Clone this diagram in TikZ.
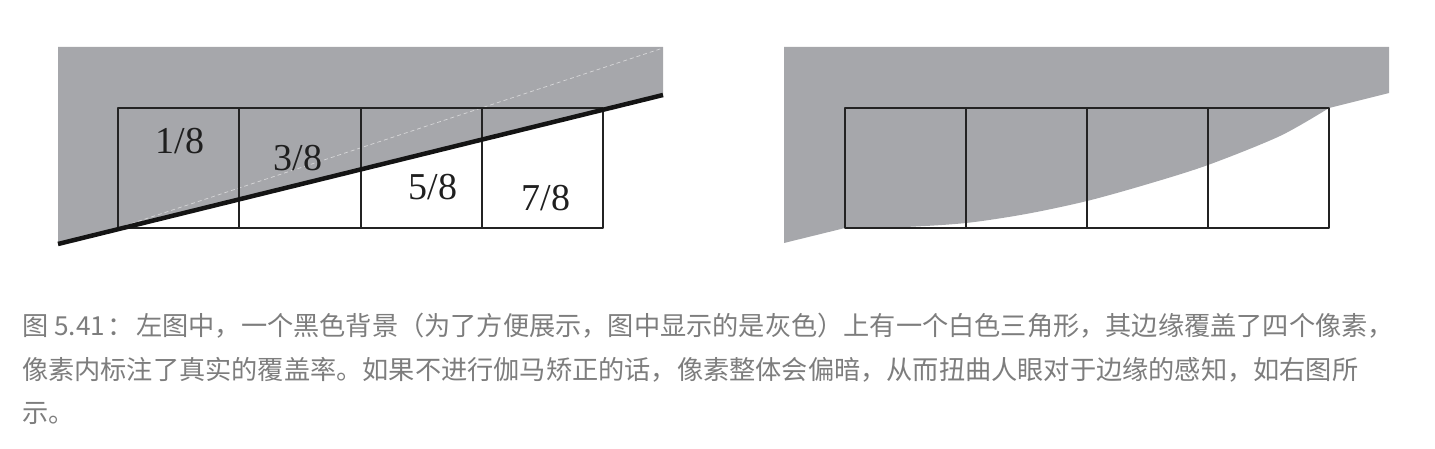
\documentclass[tikz,border=0pt]{standalone}
\usepackage{fontspec}
\setmainfont{Liberation Serif}
\newfontfamily\cjk{Noto Sans CJK SC}
\definecolor{bggray}{RGB}{166,167,171}
\definecolor{captiongray}{RGB}{125,125,125}
\definecolor{gridline}{RGB}{35,35,35}
\begin{document}
\begin{tikzpicture}[x=1pt,y=-1pt,
  cell/.style={draw=gridline, line width=2pt, line join=round},
  edgeline/.style={draw=black!92, line width=4.5pt},
  frac/.style={font=\fontsize{38}{38}\selectfont, inner sep=0pt, text=black!88},
  capline/.style={anchor=west, inner sep=0pt, text=captiongray, font=\cjk\fontsize{26.2}{26.2}\selectfont}]
\useasboundingbox (0,0) rectangle (1435,449);
% ---------- left panel ----------
\coordinate (Ltl) at (58,47);
\coordinate (Ltr) at (663,47);
\coordinate (Lr) at (663,95);
\coordinate (Ll) at (58,244);
\fill[bggray] (Ltl) -- (Ltr) -- (Lr) -- (Ll) -- cycle;
\coordinate (Dstart) at (118,228);
\coordinate (Dend) at (663,48);
\draw[white!55!bggray, line width=0.7pt, dash pattern=on 4pt off 3pt] (Dstart) -- (Dend);
\draw[cell] (118,108) rectangle (603,228);
\foreach \x in {239,361,482} \draw[cell] (\x,108) -- (\x,228);
\draw[edgeline] (Ll) -- (Lr);
\node[frac] (f1) at (180,141) {1/8};
\node[frac] (f3) at (298,158) {3/8};
\node[frac] (f5) at (433,187) {5/8};
\node[frac] (f7) at (546,198) {7/8};
% ---------- right panel ----------
\coordinate (Rtl) at (784,47);
\coordinate (Rtr) at (1389,47);
\coordinate (Rr) at (1389,93);
\coordinate (Rl) at (784,243);
\fill[bggray] (Rtl) -- (Rtr) -- (Rr) -- plot[smooth, tension=0.5] coordinates {(1329,108) (1280,136) (1208,165) (1148,184) (1087,201) (1026,214) (966,223) (905,227) (845,228)} -- (Rl) -- cycle;
\draw[cell] (845,108) rectangle (1329,228);
\foreach \x in {966,1087,1208} \draw[cell] (\x,108) -- (\x,228);
% ---------- caption ----------
\node[capline] (c1) at (22,326) {图\makebox[56pt][l]{\hspace{6pt}5.41}\makebox[32pt][c]{：}左图中，一个黑色背景（为了方便展示，图中显示的是灰色）上有一个白色三角形，其边缘覆盖了四个像素，};
\node[capline] (c2) at (22,370) {像素内标注了真实的覆盖率。如果不进行伽马矫正的话，像素整体会偏暗，从而扭曲人眼对于边缘的感知，如右图所};
\node[capline] (c3) at (22,413) {示。};
\end{tikzpicture}
\end{document}
